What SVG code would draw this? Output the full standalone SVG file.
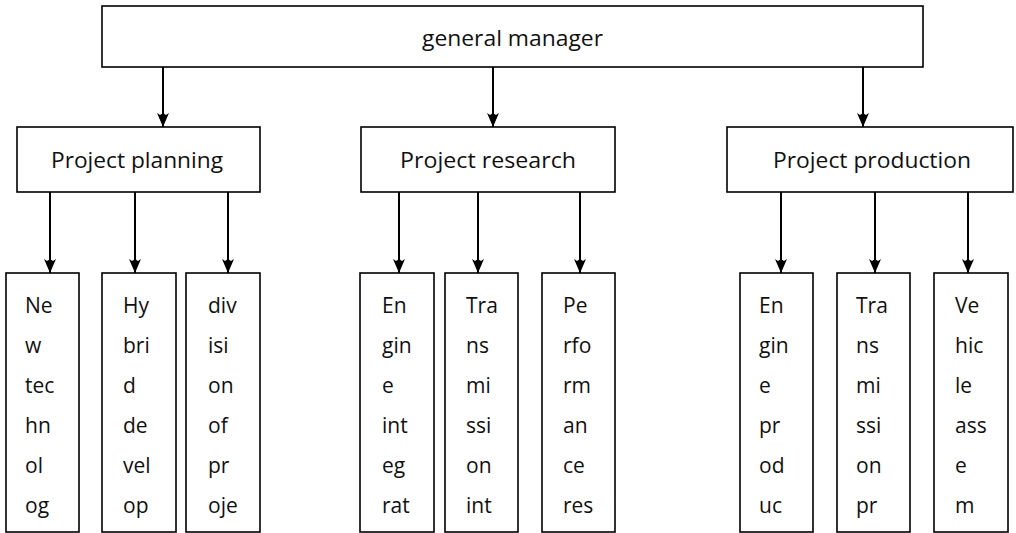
<svg xmlns="http://www.w3.org/2000/svg" width="1016" height="533" viewBox="0 0 1016 533">
<style>
.box{fill:#fff;stroke:#000;stroke-width:1.6}
.t{font-family:"Open Sans","Liberation Sans",sans-serif;fill:#111}
.big{font-size:22px}
.sm{font-size:21px}
.c{stroke:#000;stroke-width:2;fill:none;marker-end:url(#ah)}
</style>
<defs>
<marker id="ah" viewBox="0 0 12 14" refX="6" refY="14" markerWidth="12" markerHeight="14" markerUnits="userSpaceOnUse" orient="0">
<path d="M0,0 L3,2 L6,0 L9,2 L12,0 L6,14 Z" fill="#000"/>
</marker>
</defs>
<rect width="1016" height="533" fill="#fff"/>
<g id="connectors">
<line class="c" x1="163" y1="67" x2="163" y2="127"/>
<line class="c" x1="493" y1="67" x2="493" y2="127"/>
<line class="c" x1="863" y1="67" x2="863" y2="127"/>
<line class="c" x1="50" y1="192" x2="50" y2="273"/>
<line class="c" x1="135" y1="192" x2="135" y2="273"/>
<line class="c" x1="228" y1="192" x2="228" y2="273"/>
<line class="c" x1="399" y1="192" x2="399" y2="273"/>
<line class="c" x1="478" y1="192" x2="478" y2="273"/>
<line class="c" x1="580" y1="192" x2="580" y2="273"/>
<line class="c" x1="781" y1="192" x2="781" y2="273"/>
<line class="c" x1="875" y1="192" x2="875" y2="273"/>
<line class="c" x1="968" y1="192" x2="968" y2="273"/>
</g>
<g id="gm">
<rect class="box" x="102" y="6" width="821" height="61"/>
<text class="t big" x="422" y="46" textLength="181" lengthAdjust="spacingAndGlyphs">general manager</text>
</g>
<g id="planning">
<rect class="box" x="17" y="127" width="243" height="65"/>
<text class="t big" x="51" y="168" textLength="172" lengthAdjust="spacingAndGlyphs">Project planning</text>
</g>
<g id="research">
<rect class="box" x="361" y="127" width="254" height="65"/>
<text class="t big" x="400" y="168" textLength="176" lengthAdjust="spacingAndGlyphs">Project research</text>
</g>
<g id="production">
<rect class="box" x="727" y="127" width="286" height="65"/>
<text class="t big" x="773" y="168" textLength="198" lengthAdjust="spacingAndGlyphs">Project production</text>
</g>
<g id="n1">
<rect class="box" x="6" y="273" width="73" height="259"/>
<text class="t sm"><tspan x="25" y="313">Ne</tspan><tspan x="25" y="353">w</tspan><tspan x="25" y="393">tec</tspan><tspan x="25" y="433">hn</tspan><tspan x="25" y="473">ol</tspan><tspan x="25" y="513">og</tspan></text>
</g>
<g id="n2">
<rect class="box" x="102" y="273" width="74" height="259"/>
<text class="t sm"><tspan x="123" y="313">Hy</tspan><tspan x="123" y="353">bri</tspan><tspan x="123" y="393">d</tspan><tspan x="123" y="433">de</tspan><tspan x="123" y="473">vel</tspan><tspan x="123" y="513">op</tspan></text>
</g>
<g id="n3">
<rect class="box" x="186" y="273" width="74" height="259"/>
<text class="t sm"><tspan x="208" y="313">div</tspan><tspan x="208" y="353">isi</tspan><tspan x="208" y="393">on</tspan><tspan x="208" y="433">of</tspan><tspan x="208" y="473">pr</tspan><tspan x="208" y="513">oje</tspan></text>
</g>
<g id="n4">
<rect class="box" x="360" y="273" width="74" height="259"/>
<text class="t sm"><tspan x="382" y="313">En</tspan><tspan x="382" y="353">gin</tspan><tspan x="382" y="393">e</tspan><tspan x="382" y="433">int</tspan><tspan x="382" y="473">eg</tspan><tspan x="382" y="513">rat</tspan></text>
</g>
<g id="n5">
<rect class="box" x="445" y="273" width="73" height="259"/>
<text class="t sm"><tspan x="466" y="313">Tra</tspan><tspan x="466" y="353">ns</tspan><tspan x="466" y="393">mi</tspan><tspan x="466" y="433">ssi</tspan><tspan x="466" y="473">on</tspan><tspan x="466" y="513">int</tspan></text>
</g>
<g id="n6">
<rect class="box" x="542" y="273" width="73" height="259"/>
<text class="t sm"><tspan x="563" y="313">Pe</tspan><tspan x="563" y="353">rfo</tspan><tspan x="563" y="393">rm</tspan><tspan x="563" y="433">an</tspan><tspan x="563" y="473">ce</tspan><tspan x="563" y="513">res</tspan></text>
</g>
<g id="n7">
<rect class="box" x="740" y="273" width="73" height="259"/>
<text class="t sm"><tspan x="759" y="313">En</tspan><tspan x="759" y="353">gin</tspan><tspan x="759" y="393">e</tspan><tspan x="759" y="433">pr</tspan><tspan x="759" y="473">od</tspan><tspan x="759" y="513">uc</tspan></text>
</g>
<g id="n8">
<rect class="box" x="837" y="273" width="73" height="259"/>
<text class="t sm"><tspan x="856" y="313">Tra</tspan><tspan x="856" y="353">ns</tspan><tspan x="856" y="393">mi</tspan><tspan x="856" y="433">ssi</tspan><tspan x="856" y="473">on</tspan><tspan x="856" y="513">pr</tspan></text>
</g>
<g id="n9">
<rect class="box" x="934" y="273" width="74" height="259"/>
<text class="t sm"><tspan x="955" y="313">Ve</tspan><tspan x="955" y="353">hic</tspan><tspan x="955" y="393">le</tspan><tspan x="955" y="433">ass</tspan><tspan x="955" y="473">e</tspan><tspan x="955" y="513">m</tspan></text>
</g>
</svg>
